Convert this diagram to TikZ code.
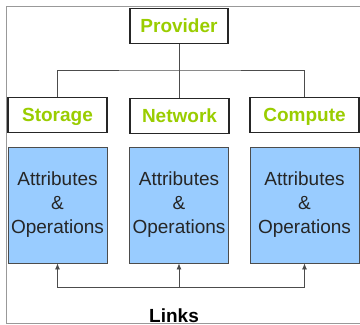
\documentclass[tikz,border=0pt]{standalone}
\usepackage{fontspec}
\setmainfont{Liberation Sans}
\usetikzlibrary{arrows.meta}
\definecolor{titlegreen}{HTML}{9ACD00}
\definecolor{opsblue}{HTML}{99CCFF}
\begin{document}
\begin{tikzpicture}[x=1pt,y=-1pt,
  titlebox/.style={draw=black!85, line width=1.3pt, fill=white,
    font=\fontsize{19}{22}\selectfont\bfseries, text=titlegreen,
    inner sep=0pt, minimum height=35pt, text height=12pt, text depth=0pt},
  opsbox/.style={draw=black!70, line width=0.8pt, fill=opsblue,
    font=\fontsize{19}{24}\selectfont, align=center, inner sep=0pt,
    minimum height=116pt, text=black!85},
  wire/.style={draw=black!70, line width=0.8pt},
  link/.style={wire, -{Latex[length=6pt,width=5pt]}},
  caption/.style={font=\fontsize{19}{22}\selectfont\bfseries, text=black, inner sep=0pt}]
\useasboundingbox (0,0) rectangle (360,325);
\fill[white] (0,0) rectangle (360,325);
\draw[gray!80, line width=1pt] (362,6) -- (7,6) -- (7,323.5) -- (362,323.5);
% title boxes
\node[titlebox, minimum width=98pt] (prov) at (179,26) {Provider};
\node[titlebox, minimum width=99pt] (stor) at (57.5,115) {Storage};
\node[titlebox, minimum width=99pt] (net) at (179.5,116) {Network};
\node[titlebox, minimum width=109pt] (comp) at (304.5,115) {Compute};
% blue boxes
\node[opsbox, minimum width=99pt] (sa) at (57.5,205) {Attributes\\\&\\Operations};
\node[opsbox, minimum width=99pt] (na) at (179,205) {Attributes\\\&\\Operations};
\node[opsbox, minimum width=109pt] (ca) at (304.5,205) {Attributes\\\&\\Operations};
% tree connectors
\coordinate (split) at (179,70);
\draw[wire] (prov.south) -- (split);
\draw[wire] (stor.north) |- (split) -| (comp.north);
\draw[wire] (split) -- (split |- net.north);
% links
\coordinate (lk) at (179,287);
\draw[link] (lk) -- (lk |- na.south);
\draw[link] (lk) -| (sa.south);
\draw[link] (lk) -| (ca.south);
\node[caption, anchor=base] (links) at (174,322) {Links};
\end{tikzpicture}
\end{document}
